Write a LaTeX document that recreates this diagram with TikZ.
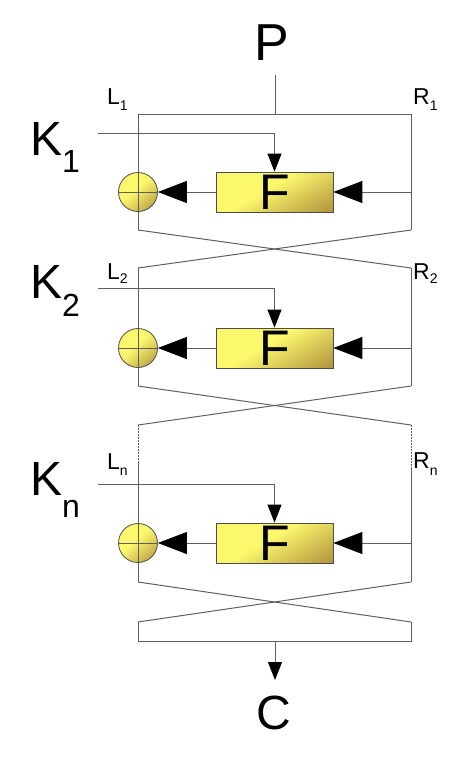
\documentclass[tikz,border=0pt]{standalone}
\usepackage{fontspec}
\setmainfont{Liberation Sans}
\usetikzlibrary{arrows.meta}
\definecolor{fy}{RGB}{252,248,110}
\definecolor{fb}{RGB}{145,105,40}
\definecolor{ln}{RGB}{95,95,95}
\pgfdeclarehorizontalshading{feist}{100bp}{color(0bp)=(fy); color(45bp)=(fy); color(100bp)=(fb)}
\begin{document}
\begin{tikzpicture}[x=1pt,y=-1pt,
  wire/.style={draw=ln, line width=1pt},
  gapline/.style={draw=ln, line width=1pt, dash pattern=on 1.5pt off 1.5pt},
  harrow/.style={-{Triangle[length=29pt,width=22pt,color=black]}},
  varrow/.style={-{Triangle[length=18pt,width=14pt,color=black]}},
  fbox/.style={draw=black!70, line width=0.8pt, shading=feist, shading angle=-60,
    minimum width=117pt, minimum height=40pt, inner sep=0pt, text depth=0pt,
    font=\fontsize{50}{50}\selectfont},
  xorc/.style={circle, draw=black!70, line width=0.8pt, shading=feist, shading angle=-50,
    minimum size=39pt, inner sep=0pt},
  big/.style={inner sep=0pt, anchor=base west, font=\fontsize{48}{48}\selectfont},
  lbl/.style={inner sep=0pt, anchor=base west, font=\fontsize{23}{23}\selectfont},
]
\useasboundingbox (0,0) rectangle (474,758);
% texts
\node[big, anchor=base, font=\fontsize{52}{52}\selectfont] (P) at (272,60) {P};
\node[big, anchor=base] (C) at (274,729) {C};
\node[big] (K1) at (30,155) {K\raisebox{-17pt}{\fontsize{32}{32}\selectfont 1}};
\node[big] (K2) at (30,298) {K\raisebox{-18pt}{\fontsize{32}{32}\selectfont 2}};
\node[big] (Kn) at (30,495) {K\raisebox{-22pt}{\fontsize{32}{32}\selectfont n}};
\node[lbl] (L1) at (107,104) {L\raisebox{-6pt}{\fontsize{14}{14}\selectfont 1}};
\node[lbl] (R1) at (413,104) {R\raisebox{-6pt}{\fontsize{14}{14}\selectfont 1}};
\node[lbl] (L2) at (107,279) {L\raisebox{-4pt}{\fontsize{14}{14}\selectfont 2}};
\node[lbl] (R2) at (413,279) {R\raisebox{-4pt}{\fontsize{14}{14}\selectfont 2}};
\node[lbl] (Ln) at (107,469) {L\raisebox{-6pt}{\fontsize{14}{14}\selectfont n}};
\node[lbl] (Rn) at (413,468) {R\raisebox{-7pt}{\fontsize{14}{14}\selectfont n}};
% coordinates
\coordinate (P0) at (275,75); \coordinate (Pm) at (275,114);
\coordinate (t1L) at (138,114); \coordinate (t1R) at (411,114);
\coordinate (b1L) at (138,230); \coordinate (b1R) at (411,230);
\coordinate (t2L) at (138,268); \coordinate (t2R) at (411,268);
\coordinate (b2L) at (138,386); \coordinate (b2R) at (411,386);
\coordinate (dL) at (138,425); \coordinate (dR) at (411,425);
\coordinate (eL) at (138,463); \coordinate (eR) at (411,467);
\coordinate (b3L) at (138,582); \coordinate (b3R) at (411,582);
\coordinate (fL) at (138,622); \coordinate (fR) at (411,622);
\coordinate (gL) at (138,641); \coordinate (gR) at (411,641);
\coordinate (gM) at (275,641); \coordinate (cT) at (275,680);
\coordinate (k1) at (98,133); \coordinate (k2) at (98,288); \coordinate (k3) at (98,484);
% boxes
\node[fbox] (F1) at (274.5,192) {F};
\node[fbox] (F2) at (274.5,348) {F};
\node[fbox] (F3) at (274.5,543) {F};
\node[xorc] (X1) at (138,192) {};
\node[xorc] (X2) at (138,348) {};
\node[xorc] (X3) at (138,543) {};
% round 1
\draw[wire] (P0) -- (Pm);
\draw[wire] (b1L) -- (t1L) -- (t1R) -- (b1R);
\draw[wire, harrow] (b1R |- F1) -- (F1.east);
\draw[wire, harrow] (F1.west) -- (X1.east);
\draw[wire] (X1.west) -- (X1.east);
\draw[wire, varrow] (k1) -| (F1.north);
\draw[wire] (b1L) -- (t2R);
\draw[wire] (b1R) -- (t2L);
% round 2
\draw[wire] (t2L) -- (b2L);
\draw[wire] (t2R) -- (b2R);
\draw[wire, harrow] (b2R |- F2) -- (F2.east);
\draw[wire, harrow] (F2.west) -- (X2.east);
\draw[wire] (X2.west) -- (X2.east);
\draw[wire, varrow] (k2) -| (F2.north);
\draw[wire] (b2L) -- (dR);
\draw[wire] (b2R) -- (dL);
% gap
\draw[gapline] (dL) -- (eL);
\draw[gapline] (dR) -- (eR);
% round n
\draw[wire] (eL) -- (b3L);
\draw[wire] (eR) -- (b3R);
\draw[wire, harrow] (b3R |- F3) -- (F3.east);
\draw[wire, harrow] (F3.west) -- (X3.east);
\draw[wire] (X3.west) -- (X3.east);
\draw[wire, varrow] (k3) -| (F3.north);
\draw[wire] (b3L) -- (fR);
\draw[wire] (b3R) -- (fL);
\draw[wire] (fL) -- (gL) -- (gR) -- (fR);
\draw[wire, varrow] (gM) -- (cT);
\end{tikzpicture}
\end{document}
